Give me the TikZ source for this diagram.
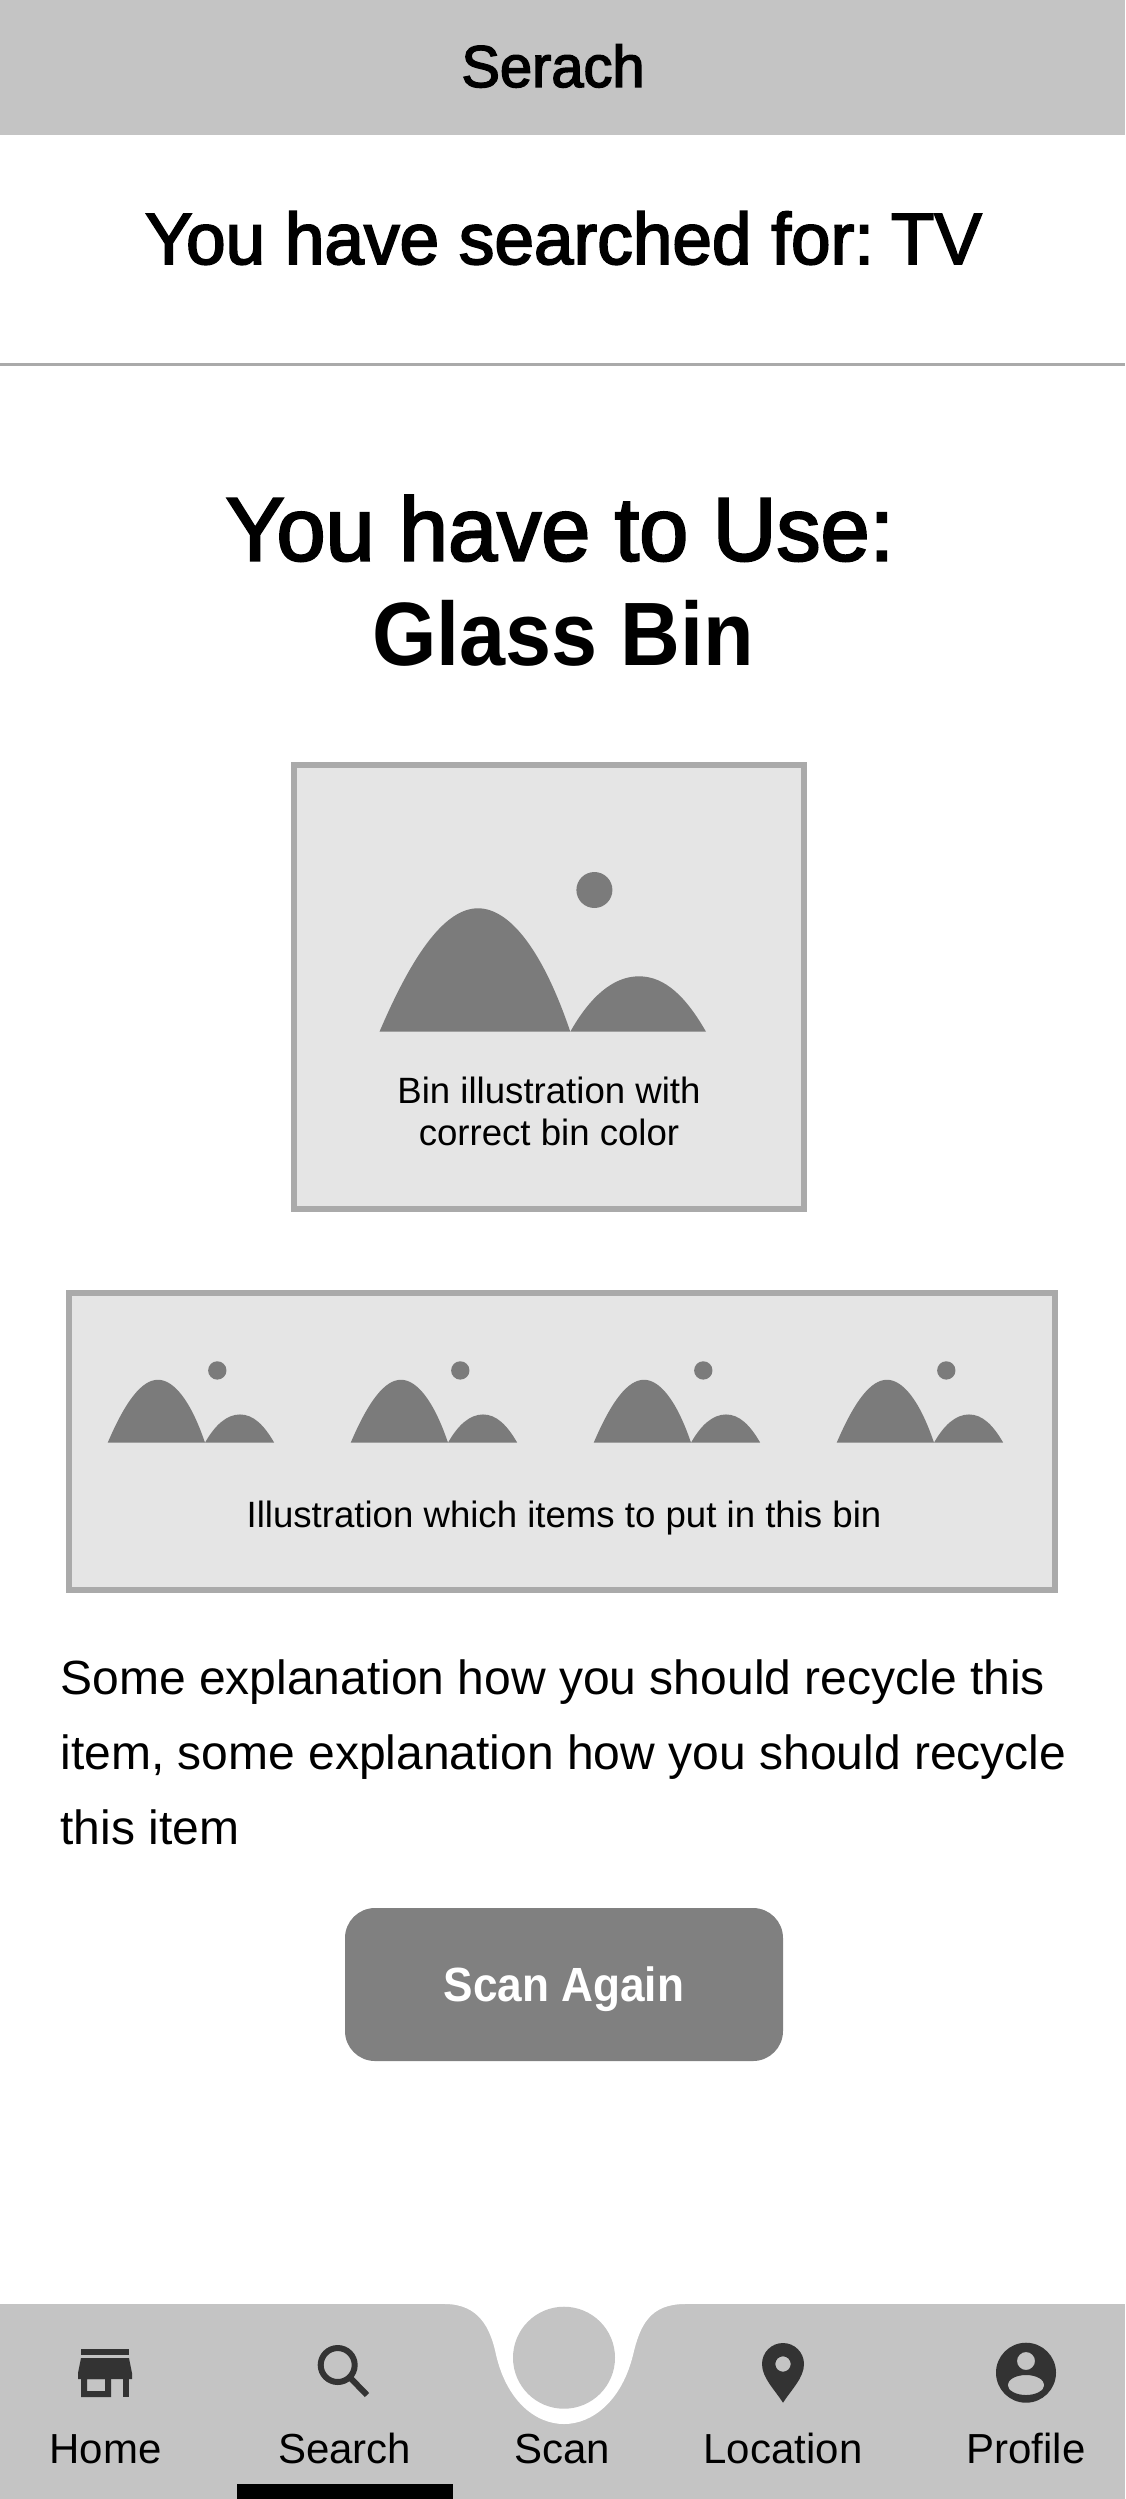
\documentclass[tikz,border=0pt]{standalone}
\usepackage{fontspec}
\setmainfont{Liberation Sans}
\newfontfamily\mediumfont[FakeBold=2.5, FakeStretch=0.98]{Liberation Sans}
\newfontfamily\heavyfont[UprightFont=* Bold, FakeStretch=0.92]{Liberation Sans}
\definecolor{barfill}{HTML}{C4C4C4}
\definecolor{boxfill}{HTML}{E5E5E5}
\definecolor{boxline}{HTML}{AAAAAA}
\definecolor{hillfill}{HTML}{7B7B7B}
\definecolor{buttonfill}{HTML}{808080}
\definecolor{iconfill}{HTML}{333333}
\tikzset{
  label/.style={anchor=base, inner sep=0pt, align=center},
  navlabel/.style={label, font=\fontsize{21}{25}\selectfont},
  piclabel/.style={label, font=\fontsize{18.3}{22}\selectfont},
  bodyline/.style={anchor=base west, inner sep=0pt, font=\fontsize{24}{28}\selectfont},
  picbox/.style={fill=boxfill, draw=boxline, line width=3pt},
}
\newcommand{\hills}[3]{
  \begin{scope}[shift={(#1, #2)}, scale=#3]
    \fill[hillfill] (0, 0) .. controls (35, -82) and (67, -123.4) .. (98.5, -123.4) .. controls (130, -123.4) and (163, -82) .. (190.8, 0) -- cycle;
    \fill[hillfill] (190.8, 0) .. controls (210, -34) and (233, -55.4) .. (259.5, -55.4) .. controls (286, -55.4) and (307, -34) .. (326.5, 0) -- cycle;
    \fill[hillfill] (214.9, -141.7) circle (18);
  \end{scope}
}
\begin{document}
\begin{tikzpicture}[x=0.5pt, y=-0.5pt]
  \useasboundingbox (0, 0) rectangle (1125, 2499);

  % top bar
  \fill[barfill] (0, 0) rectangle (1125, 135);
  \node[label, font=\mediumfont\fontsize{29.5}{35}\selectfont] (title) at (553, 87) {Serach};
  \node[label, font=\mediumfont\fontsize{36.3}{43}\selectfont] (searched) at (563.5, 264) {You have searched for:\kern-1.5pt\ TV};
  \draw[boxline, line width=1.5pt] (0, 364.5) -- (1125, 364.5);

  \node[label, font=\mediumfont\fontsize{45}{54}\selectfont] (use) at (560, 560.5) {You have to Use:};
  \node[label, font=\heavyfont\fontsize{45}{54}\selectfont] (bin) at (563, 665.5) {Glass Bin};

  % big picture
  \draw[picbox] (294, 765) rectangle (804, 1208.7);
  \hills{379.5}{1031.7}{1}
  \node[piclabel] (binpic) at (549, 1103.3) {Bin illustration with};
  \node[piclabel] (bincolor) at (549, 1145) {correct bin color};

  % small pictures
  \draw[picbox] (69, 1293) rectangle (1055, 1590);
  \foreach \i in {107.7, 350.7, 593.7, 836.7} {
    \hills{\i}{1442.7}{0.51}
  }
  \node[piclabel] (items) at (564, 1527) {Illustration which items to put in this bin};

  \node[bodyline] (line1) at (60, 1694) {Some explanation how you should recycle this};
  \node[bodyline] (line2) at (60, 1769) {item, some explanation how you should recycle};
  \node[bodyline] (line3) at (60, 1844) {this item};

  \fill[buttonfill, rounded corners=15pt] (345, 1908) rectangle (783, 2061);
  \node[label, text=white, font=\heavyfont\fontsize{24}{28}\selectfont] (again) at (564, 2001) {Scan Again};

  % bottom bar
  \fill[barfill] (0, 2304) rectangle (1125, 2499);
  \fill[white] (445, 2304) .. controls (480, 2304) and (490, 2330) .. (495, 2350) .. controls (505, 2400) and (535, 2424) .. (564, 2424) .. controls (593, 2424) and (622, 2400) .. (633, 2355) .. controls (640, 2325) and (650, 2304) .. (685, 2304) -- cycle;
  \fill[barfill] (564, 2357.7) circle (51);
  \fill[black] (236.7, 2484) rectangle (452.6, 2499);

  % home icon
  \fill[iconfill] (81, 2349) rectangle (129, 2355);
  \fill[iconfill] (81, 2358) -- (129, 2358) -- (132, 2373) -- (132, 2379) -- (78, 2379) -- (78, 2373) -- cycle;
  \fill[iconfill, even odd rule] (81, 2379) rectangle (111, 2397) (87, 2379) rectangle (105, 2391);
  \fill[iconfill] (123, 2379) rectangle (129, 2397);
  % search icon
  \draw[iconfill, line width=3pt] (337.7, 2365) circle (17);
  \draw[iconfill, line width=3pt] (350, 2377.5) -- (367, 2395);
  % location icon
  \fill[iconfill, even odd rule] (783, 2402.7) .. controls (775, 2390) and (762, 2378) .. (762, 2364) arc[start angle=180, end angle=360, radius=21] .. controls (804, 2378) and (791, 2390) .. (783, 2402.7) -- cycle (783, 2364) circle (7.7);
  % profile icon
  \fill[iconfill, even odd rule] (1026, 2372.7) circle (30) (1026, 2361) circle (9) (1026, 2385) ellipse (18.3 and 10);

  \node[navlabel] (home) at (105.5, 2463) {Home};
  \node[navlabel] (search) at (344.6, 2463) {Search};
  \node[navlabel] (scan) at (562, 2463) {Scan};
  \node[navlabel] (location) at (783, 2463) {Location};
  \node[navlabel] (profile) at (1026, 2463) {Profile};
\end{tikzpicture}
\end{document}
